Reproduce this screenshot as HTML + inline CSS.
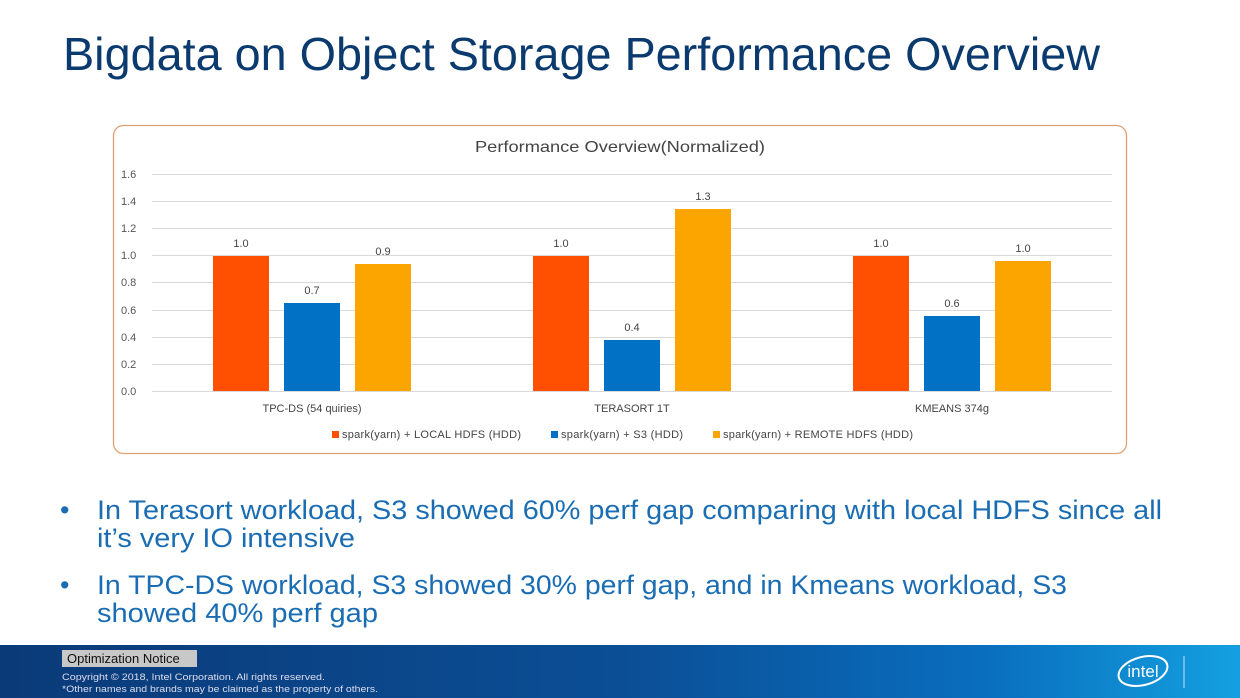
<!DOCTYPE html>
<html><head><meta charset="utf-8"><style>html,body{margin:0;padding:0;background:#fff}svg{display:block}</style></head>
<body>
<svg width="1240" height="698" viewBox="0 0 1240 698" xmlns="http://www.w3.org/2000/svg" font-family="Liberation Sans, DejaVu Sans, sans-serif">
<defs>
<linearGradient id="ft" x1="0" x2="1" y1="0" y2="0">
<stop offset="0" stop-color="#0b3a78"/><stop offset="0.5" stop-color="#0b4e95"/><stop offset="0.8" stop-color="#0a6fbf"/><stop offset="1" stop-color="#14a0e0"/>
</linearGradient>
</defs>
<text x="63" y="70" font-size="46" fill="#0b3a6e" textLength="1037" lengthAdjust="spacingAndGlyphs">Bigdata on Object Storage Performance Overview</text>
<rect x="113.5" y="125.5" width="1013" height="328" rx="10" fill="#fff" stroke="#e0a070" stroke-width="1.3"/>
<text x="475" y="152" font-size="16" fill="#444" textLength="290" lengthAdjust="spacingAndGlyphs">Performance Overview(Normalized)</text>
<g stroke="#d9d9d9" stroke-width="1">
<line x1="152" x2="1112" y1="174.5" y2="174.5"/><line x1="152" x2="1112" y1="201.5" y2="201.5"/>
<line x1="152" x2="1112" y1="228.5" y2="228.5"/><line x1="152" x2="1112" y1="255.5" y2="255.5"/>
<line x1="152" x2="1112" y1="282.5" y2="282.5"/><line x1="152" x2="1112" y1="310.5" y2="310.5"/>
<line x1="152" x2="1112" y1="337.5" y2="337.5"/><line x1="152" x2="1112" y1="364.5" y2="364.5"/>
<line x1="152" x2="1112" y1="391.5" y2="391.5"/>
</g>
<g font-size="11" fill="#555">
<text x="121" y="178">1.6</text><text x="121" y="205">1.4</text><text x="121" y="232">1.2</text><text x="121" y="259">1.0</text>
<text x="121" y="286">0.8</text><text x="121" y="314">0.6</text><text x="121" y="341">0.4</text><text x="121" y="368">0.2</text><text x="121" y="395">0.0</text>
</g>
<g>
<rect x="213" y="256" width="56" height="135" fill="#fe5000"/>
<rect x="284" y="303" width="56" height="88" fill="#0071c5"/>
<rect x="355" y="264" width="56" height="127" fill="#fca400"/>
<rect x="533" y="256" width="56" height="135" fill="#fe5000"/>
<rect x="604" y="340" width="56" height="51" fill="#0071c5"/>
<rect x="675" y="209" width="56" height="182" fill="#fca400"/>
<rect x="853" y="256" width="56" height="135" fill="#fe5000"/>
<rect x="924" y="316" width="56" height="75" fill="#0071c5"/>
<rect x="995" y="261" width="56" height="130" fill="#fca400"/>
</g>
<g font-size="11" fill="#444" text-anchor="middle">
<text x="241" y="247">1.0</text><text x="312" y="294">0.7</text><text x="383" y="255">0.9</text>
<text x="561" y="247">1.0</text><text x="632" y="331">0.4</text><text x="703" y="200">1.3</text>
<text x="881" y="247">1.0</text><text x="952" y="307">0.6</text><text x="1023" y="252">1.0</text>
<text x="312" y="412">TPC-DS (54 quiries)</text><text x="632" y="412">TERASORT 1T</text><text x="952" y="412">KMEANS 374g</text>
</g>
<g font-size="11" fill="#444">
<rect x="332" y="431" width="7" height="7" fill="#fe5000"/><text x="342" y="438" textLength="179" lengthAdjust="spacing">spark(yarn)  +  LOCAL HDFS (HDD)</text>
<rect x="551" y="431" width="7" height="7" fill="#0071c5"/><text x="561" y="438" textLength="122" lengthAdjust="spacing">spark(yarn) +  S3 (HDD)</text>
<rect x="713" y="431" width="7" height="7" fill="#fca400"/><text x="723" y="438" textLength="190" lengthAdjust="spacing">spark(yarn)  +  REMOTE HDFS (HDD)</text>
</g>
<g font-size="27" fill="#1a6db3">
<text x="60" y="519">•</text>
<text x="97" y="519" textLength="1065" lengthAdjust="spacingAndGlyphs">In Terasort workload, S3 showed 60% perf gap comparing with local HDFS since all</text>
<text x="97" y="547" textLength="258" lengthAdjust="spacingAndGlyphs">it’s very IO intensive</text>
<text x="60" y="594">•</text>
<text x="97" y="594" textLength="970" lengthAdjust="spacingAndGlyphs">In TPC-DS workload, S3 showed 30% perf gap, and in Kmeans workload, S3</text>
<text x="97" y="622" textLength="281" lengthAdjust="spacingAndGlyphs">showed 40% perf gap</text>
</g>
<rect x="0" y="645" width="1240" height="53" fill="url(#ft)"/>
<rect x="62" y="650" width="135" height="17" fill="#c8c8c8"/>
<text x="67" y="663" font-size="13" fill="#111">Optimization Notice</text>
<text x="62" y="680" font-size="9" fill="#dde" textLength="263" lengthAdjust="spacingAndGlyphs">Copyright © 2018, Intel Corporation. All rights reserved.</text>
<text x="62" y="692" font-size="9" fill="#dde" textLength="316" lengthAdjust="spacingAndGlyphs">*Other names and brands may be claimed as the property of others.</text>
<ellipse cx="1143" cy="671" rx="25" ry="14" fill="none" stroke="#fff" stroke-width="2" transform="rotate(-15 1143 671)"/>
<text x="1143" y="677" font-size="17" fill="#fff" text-anchor="middle">intel</text>
<line x1="1184" x2="1184" y1="656" y2="688" stroke="#cde" stroke-width="1"/>
</svg>
</body></html>
